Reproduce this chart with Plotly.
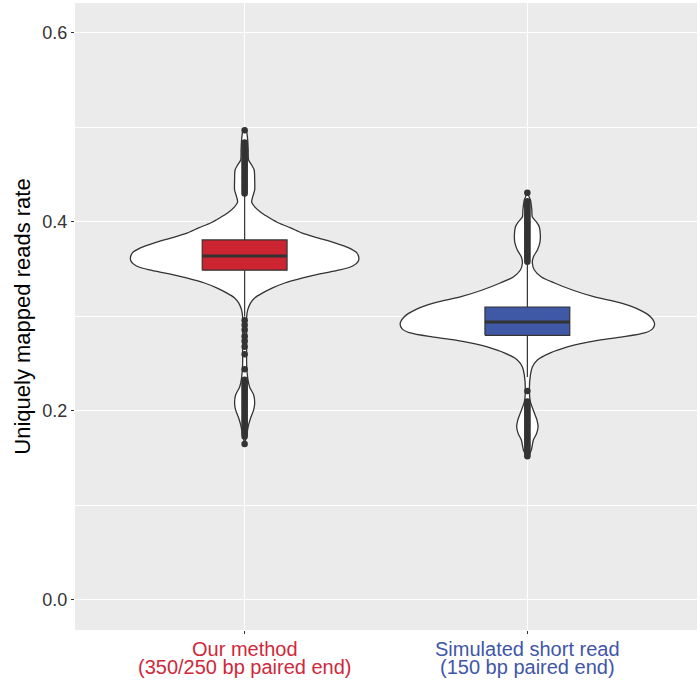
import plotly.graph_objects as go

# ---------------- data ----------------
categories = ["Our method", "Simulated short read"]
category_lines = [["Our method", "(350/250 bp paired end)"],
                  ["Simulated short read", "(150 bp paired end)"]]
y_ticks = [0.0, 0.2, 0.4, 0.6]
y_tick_labels = ["0.0", "0.2", "0.4", "0.6"]

# violin density profiles (rate, relative density; shared scale)
ours_grid = [0.4995, 0.4952, 0.4868, 0.4762, 0.4656, 0.4603, 0.4550, 0.4444, 0.4339, 0.4265,
             0.4212, 0.4159, 0.4095, 0.4042, 0.3989, 0.3937, 0.3884, 0.3831, 0.3778, 0.3725,
             0.3672, 0.3619, 0.3577, 0.3534, 0.3492, 0.3450, 0.3407, 0.3354, 0.3302, 0.3249,
             0.3196, 0.3143, 0.3069, 0.2995, 0.2751, 0.2487, 0.2349, 0.2254, 0.2169, 0.2085,
             0.2011, 0.1926, 0.1852, 0.1746, 0.1651]
ours_density = [0.0, 0.016, 0.024, 0.028, 0.031, 0.055, 0.075, 0.079, 0.079, 0.063,
                0.055, 0.079, 0.134, 0.197, 0.268, 0.362, 0.449, 0.575, 0.709, 0.819,
                0.882, 0.898, 0.890, 0.850, 0.748, 0.591, 0.457, 0.315, 0.220, 0.142,
                0.079, 0.047, 0.024, 0.016, 0.016, 0.016, 0.024, 0.039, 0.071, 0.079,
                0.071, 0.047, 0.031, 0.016, 0.0]

sim_grid = [0.4307, 0.4233, 0.4127, 0.4053, 0.4000, 0.3947, 0.3862, 0.3778, 0.3704, 0.3630,
            0.3566, 0.3492, 0.3418, 0.3354, 0.3280, 0.3206, 0.3143, 0.3069, 0.2995, 0.2921,
            0.2868, 0.2825, 0.2783, 0.2751, 0.2709, 0.2677, 0.2614, 0.2540, 0.2466, 0.2381,
            0.2222, 0.2095, 0.1979, 0.1905, 0.1831, 0.1757, 0.1693, 0.1587, 0.1503]
sim_density = [0.0, 0.024, 0.035, 0.039, 0.071, 0.094, 0.102, 0.098, 0.079, 0.047,
               0.039, 0.055, 0.110, 0.213, 0.354, 0.528, 0.732, 0.882, 0.969, 1.0,
               0.984, 0.921, 0.748, 0.575, 0.409, 0.315, 0.181, 0.079, 0.039, 0.024,
               0.016, 0.024, 0.055, 0.075, 0.084, 0.071, 0.047, 0.031, 0.0]

# box statistics: q1, median, q3, lower whisker, upper whisker
ours_box = dict(q1=0.349, median=0.364, q3=0.381, lower=0.300, upper=0.429)
sim_box = dict(q1=0.280, median=0.294, q3=0.310, lower=0.236, upper=0.355)

# outliers
ours_outliers = [0.430, 0.432, 0.434, 0.436, 0.438, 0.440, 0.442, 0.444, 0.446, 0.448,
                 0.450, 0.452, 0.454, 0.456, 0.458, 0.460, 0.462, 0.464, 0.466, 0.468,
                 0.470, 0.472, 0.474, 0.476, 0.478, 0.480, 0.482, 0.484, 0.497,
                 0.296, 0.291, 0.286, 0.279, 0.274, 0.268, 0.260, 0.244,
                 0.233, 0.231, 0.229, 0.227, 0.225, 0.223, 0.221, 0.219, 0.217, 0.215,
                 0.213, 0.211, 0.209, 0.207, 0.205, 0.203, 0.201, 0.199, 0.197, 0.195,
                 0.193, 0.191, 0.189, 0.187, 0.185, 0.183, 0.181, 0.179, 0.177, 0.175,
                 0.173, 0.165]
sim_outliers = [0.358, 0.360, 0.362, 0.364, 0.366, 0.368, 0.370, 0.372, 0.374, 0.376,
                0.378, 0.380, 0.382, 0.384, 0.386, 0.388, 0.390, 0.392, 0.394, 0.396,
                0.398, 0.400, 0.402, 0.404, 0.406, 0.408, 0.410, 0.412, 0.414, 0.416,
                0.418, 0.420, 0.422, 0.431,
                0.221, 0.210, 0.208, 0.206, 0.204, 0.202, 0.200, 0.198, 0.196, 0.194,
                0.192, 0.190, 0.188, 0.186, 0.184, 0.182, 0.180, 0.178, 0.176, 0.174,
                0.172, 0.170, 0.168, 0.166, 0.164, 0.162, 0.160, 0.158, 0.156, 0.154,
                0.152]

# ---------------- style ----------------
colors = ["#CC2531", "#3F59A7"]
label_colors = ["#D0283A", "#3F56A8"]
dark = "#333333"
violin_half = 0.45
box_width = 0.3
font_family = "Liberation Sans, Arial, Helvetica, sans-serif"
label_shifts = [-19, -37]

fig = go.Figure()

groups = [
    (1, ours_grid, ours_density, ours_box, ours_outliers),
    (2, sim_grid, sim_density, sim_box, sim_outliers),
]

for i, (pos, grid, dens, box, outl) in enumerate(groups):
    # violin outline
    xs = [pos + d * violin_half for d in dens] + [pos - d * violin_half for d in reversed(dens)]
    ys = list(grid) + list(reversed(grid))
    fig.add_trace(go.Scatter(
        x=xs + [xs[0]], y=ys + [ys[0]], mode="lines", fill="toself",
        fillcolor="white", line=dict(color=dark, width=1.3, shape="spline", smoothing=0.7),
        hoverinfo="skip", showlegend=False))
    # whiskers
    fig.add_trace(go.Scatter(
        x=[pos, pos, None, pos, pos], y=[box["q3"], box["upper"], None, box["q1"], box["lower"]],
        mode="lines", line=dict(color=dark, width=1.2), hoverinfo="skip", showlegend=False))
    # box
    x0, x1 = pos - box_width / 2, pos + box_width / 2
    fig.add_trace(go.Scatter(
        x=[x0, x1, x1, x0, x0], y=[box["q1"], box["q1"], box["q3"], box["q3"], box["q1"]],
        mode="lines", fill="toself", fillcolor=colors[i],
        line=dict(color=dark, width=1.2), hoverinfo="skip", showlegend=False))
    # median
    fig.add_trace(go.Scatter(
        x=[x0, x1], y=[box["median"], box["median"]],
        mode="lines", line=dict(color=dark, width=3), hoverinfo="skip", showlegend=False))
    # outliers
    fig.add_trace(go.Scatter(
        x=[pos] * len(outl), y=outl, mode="markers",
        marker=dict(color=dark, size=6.5, line=dict(width=0)),
        showlegend=False))
    # category label (two lines, tight spacing)
    for j, line in enumerate(category_lines[i]):
        fig.add_annotation(
            x=pos, xref="x", y=0, yref="paper", text=line, showarrow=False,
            xanchor="center", yanchor="middle", yshift=label_shifts[j],
            font=dict(size=20, color=label_colors[i], family=font_family))

fig.update_layout(
    width=700, height=681,
    margin=dict(l=75, r=3, t=3, b=51),
    paper_bgcolor="white", plot_bgcolor="#EBEBEB",
    font=dict(family=font_family, color=dark),
    showlegend=False,
    xaxis=dict(
        range=[0.4, 2.6], tickvals=[1, 2], ticktext=["", ""], automargin=False,
        ticks="outside", ticklen=3, tickcolor=dark, tickwidth=1.1,
        showgrid=True, gridcolor="white", gridwidth=1.1, zeroline=False, showline=False),
    yaxis=dict(
        range=[-0.0318, 0.6317], tickvals=y_ticks, ticktext=y_tick_labels, automargin=False,
        tickfont=dict(size=18, color=dark), ticks="outside", ticklen=3, tickcolor=dark,
        tickwidth=1.1, showgrid=True, gridcolor="white", gridwidth=1.1,
        minor=dict(tickvals=[0.1, 0.3, 0.5], showgrid=True, gridcolor="white", gridwidth=0.55, ticks=""),
        zeroline=False, showline=False,
        title=dict(text="Uniquely mapped reads rate", font=dict(size=22, color="black"), standoff=5)),
)

fig.write_html("out.html", config={"displayModeBar": False},
               post_script="document.body.style.margin='0';document.body.style.overflow='hidden';")
